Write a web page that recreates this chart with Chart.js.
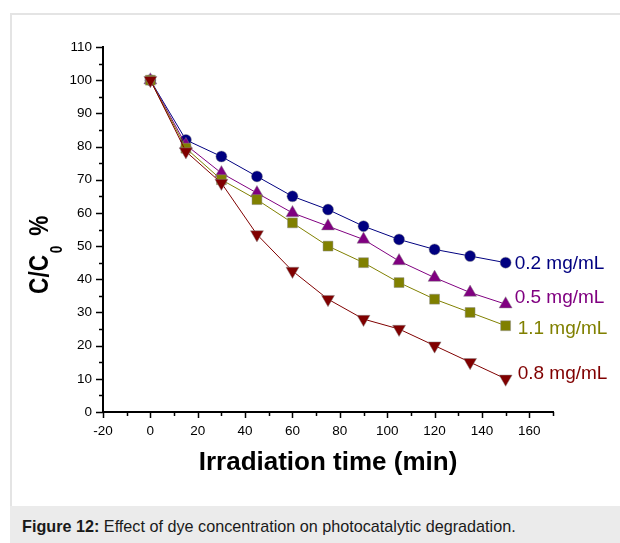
<!DOCTYPE html>
<html>
<head>
<meta charset="utf-8">
<script src="https://cdn.jsdelivr.net/npm/chart.js@4/dist/chart.umd.min.js"></script>
<style>
    body { margin: 0; background: #ffffff; font-family: "Liberation Sans", Arial, sans-serif; }
    #frame { position: absolute; left: 10px; top: 13px; width: 610px; height: 493px;
             border-left: 2px solid #e4e4e4; border-top: 2px solid #e4e4e4; box-sizing: border-box; }
    #graph { position: absolute; left: 0; top: 0; }
    #caption { position: absolute; left: 10px; top: 506px; width: 610px; height: 37px;
               background: #ebebeb; font-size: 16.2px; line-height: 40px; padding-left: 12px;
               box-sizing: border-box; color: #1a1a1a; white-space: nowrap; }
</style>
</head>
<body>
<div id="frame"></div>
<canvas id="graph" width="620" height="506"></canvas>
<div id="caption"><b>Figure 12:</b> Effect of dye concentration on photocatalytic degradation.</div>

<script>
// Values
const irradiation_times = [0, 15, 30, 45, 60, 75, 90, 105, 120, 135, 150];
const conc_02 = [100, 82, 77, 71, 65, 61, 56, 52, 49, 47, 45];
const conc_05 = [100, 80.5, 72, 66, 60, 56, 52, 45.5, 40.5, 36, 32.5];
const conc_11 = [100, 79.5, 70, 64, 57, 50, 45, 39, 34, 30, 26];
const conc_08 = [100, 78.5, 69, 53.5, 42.5, 34, 28, 25, 20, 15, 10];
const series_names = ["0.2 mg/mL", "0.5 mg/mL", "1.1 mg/mL", "0.8 mg/mL"];
const x_ticks = [-20, 0, 20, 40, 60, 80, 100, 120, 140, 160];
const y_ticks = [0, 10, 20, 30, 40, 50, 60, 70, 80, 90, 100, 110];

const font_family = '"Liberation Sans", Arial, sans-serif';

// colour, marker and label nudge for each series
const series_styles = [
    {color: "#000080", point: "circle",   radius: 5.5, rotation: 0,   dx: 9,  dy: 1},
    {color: "#800080", point: "triangle", radius: 7.5, rotation: 0,   dx: 9,  dy: -6},
    {color: "#808000", point: "rect",     radius: 7,   rotation: 0,   dx: 12, dy: 3},
    {color: "#800000", point: "triangle", radius: 7.5, rotation: 180, dx: 12, dy: -5}
];

function buildDataset(index, values) {
    const style = series_styles[index];
    return {
        label: series_names[index],
        data: irradiation_times.map((t, i) => ({x: t, y: values[i]})),
        borderColor: style.color,
        backgroundColor: style.color,
        borderWidth: 1,
        pointStyle: style.point,
        pointRadius: style.radius,
        pointRotation: style.rotation,
        pointBackgroundColor: style.color,
        pointBorderColor: "rgba(140,140,140,0.6)",
        pointBorderWidth: 0.8,
        order: 3 - index     // the 0.8 mg/mL curve sits on top
    };
}

// Short minor ticks and long major ticks, drawn outward like Origin does
const tick_marks_plugin = {
    id: "tick_marks",
    afterDraw(chart) {
        const ctx = chart.ctx;
        const x_scale = chart.scales.x;
        const y_scale = chart.scales.y;
        const area = chart.chartArea;
        ctx.save();
        ctx.strokeStyle = "#000";
        ctx.lineWidth = 1.5;
        ctx.beginPath();
        for (let v = 0; v <= 110; v += 5) {
            const py = Math.round(y_scale.getPixelForValue(v)) + 0.5;
            const len = (v % 10 === 0) ? 7 : 4;
            ctx.moveTo(area.left, py);
            ctx.lineTo(area.left - len, py);
        }
        for (let v = -20; v <= 170; v += 10) {
            const px = Math.round(x_scale.getPixelForValue(v)) + 0.5;
            const len = (v % 20 === 0) ? 6 : 4;
            ctx.moveTo(px, area.bottom);
            ctx.lineTo(px, area.bottom + len);
        }
        ctx.stroke();
        ctx.restore();
    }
};

// Series names next to the last point of every curve
const end_labels_plugin = {
    id: "end_labels",
    afterDatasetsDraw(chart) {
        const ctx = chart.ctx;
        ctx.save();
        ctx.font = "19px " + font_family;
        ctx.textBaseline = "middle";
        ctx.textAlign = "left";
        chart.data.datasets.forEach((dataset, i) => {
            const style = series_styles[i];
            const last = dataset.data[dataset.data.length - 1];
            const px = chart.scales.x.getPixelForValue(last.x) + style.dx;
            const py = chart.scales.y.getPixelForValue(last.y) + style.dy;
            ctx.fillStyle = style.color;
            ctx.fillText(dataset.label, px, py);
        });
        ctx.restore();
    }
};

// Axis titles (the y one needs a subscript, so both are drawn by hand)
const axis_titles_plugin = {
    id: "axis_titles",
    afterDraw(chart) {
        const ctx = chart.ctx;
        const area = chart.chartArea;
        ctx.save();
        ctx.fillStyle = "#000";

        ctx.font = "bold 26px " + font_family;
        ctx.textAlign = "center";
        ctx.textBaseline = "middle";
        ctx.fillText("Irradiation time (min)", (area.left + area.right) / 2, 463);

        // rotated title, a little narrower than it is tall
        ctx.translate(48, 294);
        ctx.rotate(-Math.PI / 2);
        ctx.scale(0.84, 1);
        ctx.textAlign = "left";
        ctx.textBaseline = "alphabetic";
        ctx.font = "bold 27px " + font_family;
        const main_text = "C/C";
        const main_width = ctx.measureText(main_text).width;
        ctx.fillText(main_text, 0, 0);
        ctx.font = "bold 16px " + font_family;
        ctx.fillText("0", main_width + 2, 14);
        const sub_width = ctx.measureText("0").width;
        ctx.font = "bold 27px " + font_family;
        ctx.fillText("%", main_width + sub_width + 14, 0);
        ctx.restore();
    }
};

const chart = new Chart("graph", {
    type: "line",
    data: {
        datasets: [
            buildDataset(0, conc_02),
            buildDataset(1, conc_05),
            buildDataset(2, conc_11),
            buildDataset(3, conc_08)
        ]
    },
    options: {
        responsive: false,
        animation: false,
        devicePixelRatio: 1,
        layout: {padding: {left: 0, top: 47, right: 67, bottom: 0}},
        plugins: {
            legend: {display: false},
            tooltip: {enabled: false}
        },
        scales: {
            x: {
                type: "linear",
                min: -20,
                max: 170,
                afterFit: (scale) => { scale.height = 94; },
                afterBuildTicks: (scale) => { scale.ticks = x_ticks.map(v => ({value: v})); },
                grid: {display: false, drawTicks: true, tickLength: 6},
                border: {display: true, color: "#000", width: 2},
                ticks: {color: "#000", padding: 5, maxRotation: 0,
                        font: {family: font_family, size: 13.5}}
            },
            y: {
                min: 0,
                max: 110,
                afterFit: (scale) => { scale.width = 103; },
                afterBuildTicks: (scale) => { scale.ticks = y_ticks.map(v => ({value: v})); },
                grid: {display: false, drawTicks: true, tickLength: 7},
                border: {display: true, color: "#000", width: 2},
                ticks: {color: "#000", padding: 4,
                        font: {family: font_family, size: 13.5}}
            }
        }
    },
    plugins: [tick_marks_plugin, end_labels_plugin, axis_titles_plugin]
});
</script>
</body>
</html>
